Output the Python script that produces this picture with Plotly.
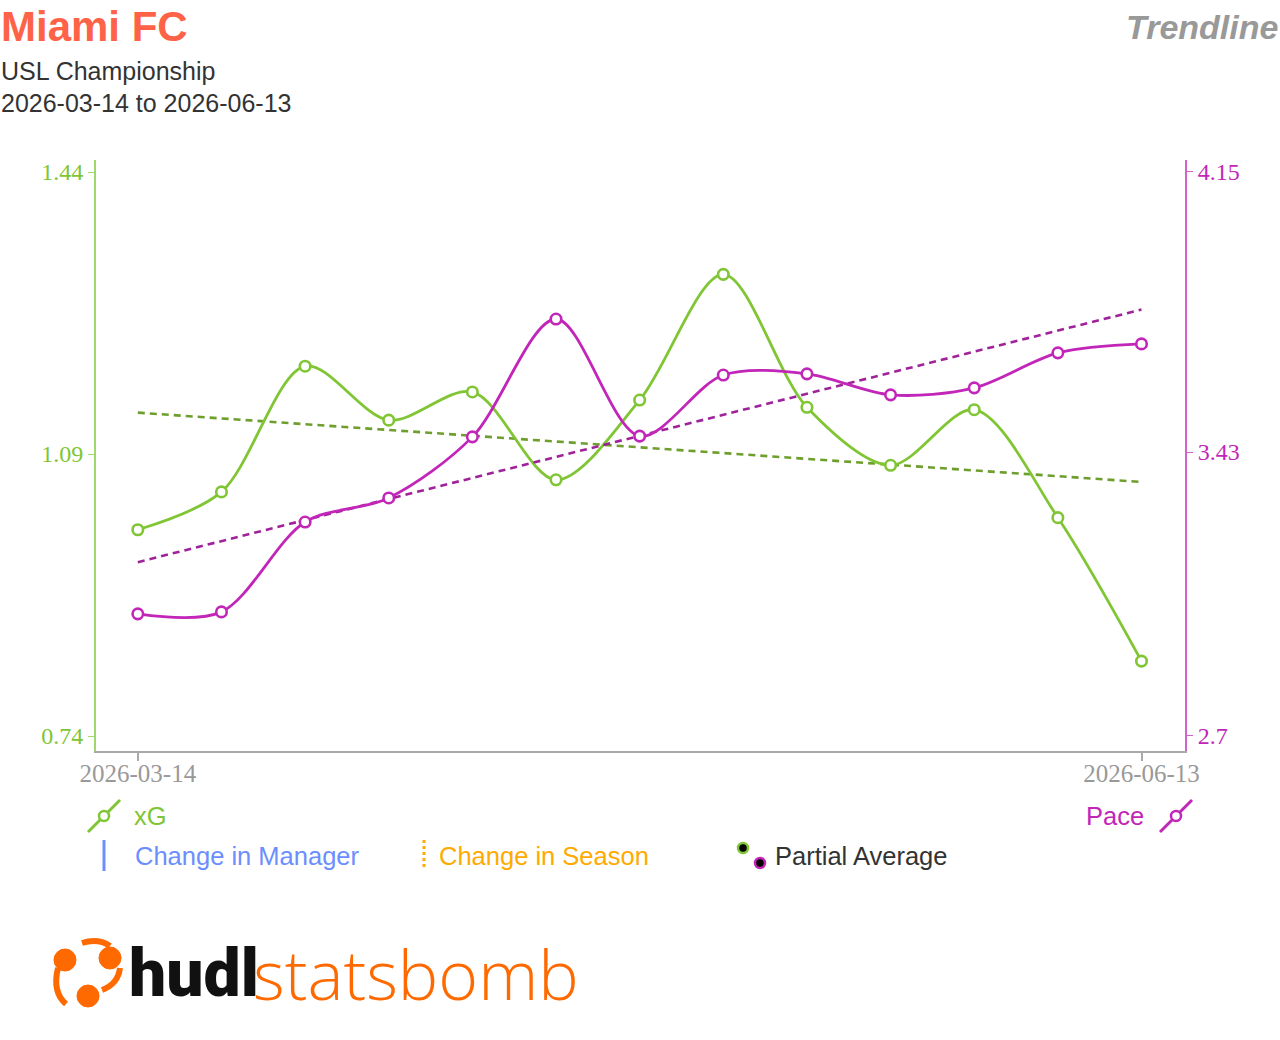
import numpy as np
import plotly.graph_objects as go

# ---- data ----
match_index = list(range(13))
x_tick_labels = ["2026-03-14", "2026-06-13"]
xg_values = [0.996, 1.043, 1.199, 1.132, 1.167, 1.058, 1.157, 1.313, 1.148, 1.076, 1.145, 1.011, 0.833]
pace_values = [3.014, 3.019, 3.250, 3.312, 3.469, 3.772, 3.471, 3.628, 3.631, 3.577, 3.595, 3.685, 3.708]
xg_ticks = [0.74, 1.09, 1.44]
pace_ticks = [2.7, 3.43, 4.15]

GREEN = "#80C634"
GREEN_TREND = "#6E9E2C"
MAGENTA = "#C226B8"
MAGENTA_TREND = "#A0229A"

x = np.array(match_index, dtype=float)
xg_fit = np.polyfit(x, xg_values, 1)
pace_fit = np.polyfit(x, pace_values, 1)
xg_trend = np.polyval(xg_fit, x)
pace_trend = np.polyval(pace_fit, x)

fig = go.Figure()
fig.add_trace(go.Scatter(x=match_index, y=xg_trend, mode="lines",
                         line=dict(color=GREEN_TREND, width=2.6, dash="7px,5px"),
                         showlegend=False, hoverinfo="skip"))
fig.add_trace(go.Scatter(x=match_index, y=pace_trend, mode="lines", yaxis="y2",
                         line=dict(color=MAGENTA_TREND, width=2.6, dash="7px,5px"),
                         showlegend=False, hoverinfo="skip"))
fig.add_trace(go.Scatter(x=match_index, y=xg_values, mode="lines+markers", name="xG",
                         line=dict(color=GREEN, width=2.8, shape="spline", smoothing=0.9),
                         marker=dict(symbol="circle", size=10.5, color="white",
                                     line=dict(color=GREEN, width=2.6)),
                         showlegend=False))
fig.add_trace(go.Scatter(x=match_index, y=pace_values, mode="lines+markers", name="Pace",
                         yaxis="y2",
                         line=dict(color=MAGENTA, width=2.8, shape="spline", smoothing=0.9),
                         marker=dict(symbol="circle", size=10.5, color="white",
                                     line=dict(color=MAGENTA, width=2.6)),
                         showlegend=False))

serif = "Liberation Serif, Times New Roman, serif"
sans = "Liberation Sans, Arial, sans-serif"

ML, MR, MT, MB = 96, 95, 160, 289
W, H = 1280, 1040
PW = W - ML - MR
PH = H - MT - MB

fig.update_layout(
    width=W, height=H,
    margin=dict(l=ML, r=MR, t=MT, b=MB),
    paper_bgcolor="white", plot_bgcolor="white",
    showlegend=False,
    xaxis=dict(range=[-0.5, 12.52], tickvals=[match_index[0], match_index[-1]],
               ticktext=x_tick_labels, showgrid=False, zeroline=False,
               showline=True, linecolor="#AAAAAA", linewidth=1.5,
               ticks="outside", ticklen=8, tickcolor="#AAAAAA", tickwidth=1.5,
               ticklabelstandoff=-9,
               tickfont=dict(family=serif, size=25, color="#999999")),
    yaxis=dict(range=[0.7214, 1.4549], tickvals=xg_ticks,
               ticktext=[f"{v:.2f}" for v in xg_ticks],
               showgrid=False, zeroline=False, showline=True,
               linecolor="#9ED86A", linewidth=2, ticks="outside", ticklen=6,
               tickcolor="#9ED86A", tickfont=dict(family=serif, size=24, color=GREEN)),
    yaxis2=dict(range=[2.6614, 4.1808], tickvals=pace_ticks,
                ticktext=["2.7", "3.43", "4.15"],
                overlaying="y", side="right", showgrid=False, zeroline=False,
                showline=True, linecolor="#D262CC", linewidth=2, ticks="outside",
                ticklen=6, tickcolor="#D262CC",
                tickfont=dict(family=serif, size=24, color=MAGENTA)),
)

def px_x(v):
    return (v - ML) / PW

def px_y(v):
    return (H - MB - v) / PH

ann = []
def text(xp, yp, s, size, color, xanchor="left", family=sans, weight=None, italic=False, yanchor="middle"):
    f = dict(family=family, size=size, color=color)
    if weight:
        f["weight"] = weight
    if italic:
        f["style"] = "italic"
    ann.append(dict(x=px_x(xp), y=px_y(yp), xref="paper", yref="paper", text=s,
                    showarrow=False, xanchor=xanchor, yanchor=yanchor, font=f,
                    borderpad=0))

text(0, 26, "Miami FC", 42, "#FF6347", weight="bold")
text(0, 71, "USL Championship", 25, "#333333")
text(0, 103, "2026-03-14 to 2026-06-13", 25, "#333333")
text(1279, 27, "Trendline", 34, "#999999", xanchor="right", weight="bold", italic=True)

text(133, 816, "xG", 25.5, GREEN)
text(1145, 816, "Pace", 25.5, MAGENTA, xanchor="right")
text(134, 856, "Change in Manager", 25.5, "#6C8EFF")
text(438, 856, "Change in Season", 25.5, "#FFAA00")
text(774, 856, "Partial Average", 25.5, "#333333")

text(128, 973, "hudl", 66, "#111111", family="Roboto, Liberation Sans, sans-serif", weight=900)
text(252, 973, "statsbomb", 68, "#FF6A00", family="Open Sans, Liberation Sans, sans-serif", weight=300)

shapes = []
def line(x0, y0, x1, y1, color, width, dash="solid"):
    shapes.append(dict(type="line", xref="paper", yref="paper",
                       x0=px_x(x0), y0=px_y(y0), x1=px_x(x1), y1=px_y(y1),
                       line=dict(color=color, width=width, dash=dash)))

def circle(cx, cy, r, fill, lc, lw):
    shapes.append(dict(type="circle", xref="paper", yref="paper",
                       x0=px_x(cx - r), y0=px_y(cy - r), x1=px_x(cx + r), y1=px_y(cy + r),
                       fillcolor=fill, line=dict(color=lc, width=lw)))

line(88, 832, 120, 800, GREEN, 3)
circle(104, 816, 5, "white", GREEN, 2.5)
line(1160, 832, 1192, 800, MAGENTA, 3)
circle(1176, 816, 5, "white", MAGENTA, 2.5)
line(104, 840, 104, 871, "#6C8EFF", 3)
line(424, 840, 424, 870, "#FFAA00", 3, dash="dot")
circle(743, 848, 5, "black", GREEN, 2.5)
circle(760, 863, 5, "black", MAGENTA, 2.5)

# logo icon (approximation)
ORANGE = "#FF6A00"
for cx, cy, r in [(65, 960, 11), (110, 958, 11), (88, 996, 11)]:
    circle(cx, cy, r, ORANGE, ORANGE, 1)

def arc(p):
    shapes.append(dict(type="path", xref="paper", yref="paper", path=p,
                       line=dict(color=ORANGE, width=6)))

def P(xp, yp):
    return f"{px_x(xp)},{px_y(yp)}"

arc(f"M {P(58, 968)} Q {P(52, 992)} {P(66, 1004)}")
arc(f"M {P(82, 943)} Q {P(98, 938)} {P(110, 946)}")
arc(f"M {P(102, 990)} Q {P(118, 984)} {P(120, 968)}")

fig.update_layout(annotations=ann, shapes=shapes)
fig.write_html("out.html")
